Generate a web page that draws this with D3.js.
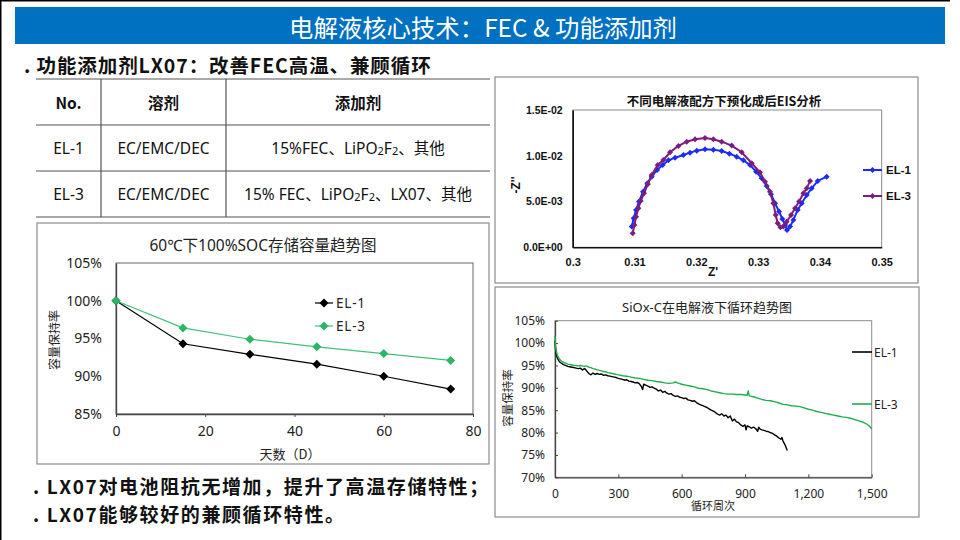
<!DOCTYPE html>
<html>
<head>
<meta charset="utf-8">
<script src="https://cdn.jsdelivr.net/npm/d3@7"></script>
<style>
  html, body { margin: 0; padding: 0; background: #fff; }
  svg { display: block; }
</style>
</head>
<body>
<svg id="slide" width="960" height="540"></svg>
<script>
// slide: electrolyte additive LX07 — table + storage / EIS / cycling charts

// ── Text ─────────────────────────────────────────────────────────────────────
const HEADER_TITLE = '电解液核心技术：FEC & 功能添加剂';
const SUBTITLE     = '. 功能添加剂LX07：改善FEC高温、兼顾循环';
const NOTES        = ['. LX07对电池阻抗无增加，提升了高温存储特性；', '. LX07能够较好的兼顾循环特性。'];

const TABLE_HEAD = ['No.', '溶剂', '添加剂'];
const TABLE_ROWS = [
    ['EL-1', 'EC/EMC/DEC', '15%FEC、LiPO2F2、其他'],
    ['EL-3', 'EC/EMC/DEC', '15% FEC、LiPO2F2、LX07、其他'],
];

const SERIES = ['EL-1', 'EL-3'];

// ── Storage chart (60℃, 100% SOC) ───────────────────────────────────────────
const STORE_TITLE   = '60℃下100%SOC存储容量趋势图';
const STORE_DAYS    = [0, 15, 30, 45, 60, 75];
const STORE_EL1     = [100, 94.3, 92.9, 91.6, 90.0, 88.3];
const STORE_EL3     = [100, 96.4, 94.9, 93.9, 93.0, 92.1];
const STORE_X_TICKS = [0, 20, 40, 60, 80];
const STORE_Y_TICKS = [85, 90, 95, 100, 105];

// ── EIS chart (Nyquist) ──────────────────────────────────────────────────────
const EIS_TITLE = '不同电解液配方下预化成后EIS分析';
const EIS_EL1_ZRE = [0.30955, 0.30987, 0.31025, 0.31073, 0.31138, 0.31208, 0.31278, 0.31365, 0.31456, 0.31548,
                     0.31656, 0.31791, 0.31899, 0.32007, 0.32141, 0.32276, 0.32411, 0.32535, 0.32654, 0.32762,
                     0.32870, 0.32967, 0.33058, 0.33139, 0.33209, 0.33274, 0.33339, 0.33393, 0.33436, 0.33468,
                     0.33517, 0.33571, 0.33641, 0.33706, 0.33787, 0.33867, 0.33965, 0.34110];
const EIS_EL1_ZIM = [0.00226, 0.00317, 0.00408, 0.00499, 0.00608, 0.00699, 0.00772, 0.00845, 0.00899, 0.00950,
                     0.00979, 0.01009, 0.01034, 0.01056, 0.01070, 0.01067, 0.01052, 0.01023, 0.00990, 0.00950,
                     0.00899, 0.00826, 0.00754, 0.00670, 0.00579, 0.00481, 0.00390, 0.00309, 0.00244, 0.00189,
                     0.00226, 0.00299, 0.00408, 0.00481, 0.00572, 0.00644, 0.00725, 0.00772];
const EIS_EL3_ZRE = [0.30971, 0.30998, 0.31025, 0.31063, 0.31100, 0.31154, 0.31214, 0.31278, 0.31376, 0.31467,
                     0.31575, 0.31710, 0.31845, 0.31980, 0.32141, 0.32276, 0.32411, 0.32573, 0.32735, 0.32897,
                     0.33031, 0.33112, 0.33193, 0.33247, 0.33285, 0.33317, 0.33360, 0.33409, 0.33463, 0.33533,
                     0.33598, 0.33663, 0.33733, 0.33787, 0.33841];
const EIS_EL3_ZIM = [0.00153, 0.00244, 0.00335, 0.00426, 0.00506, 0.00590, 0.00688, 0.00790, 0.00899, 0.00954,
                     0.01038, 0.01107, 0.01154, 0.01180, 0.01194, 0.01180, 0.01154, 0.01111, 0.01038, 0.00918,
                     0.00819, 0.00717, 0.00608, 0.00481, 0.00353, 0.00262, 0.00218, 0.00226, 0.00280, 0.00353,
                     0.00426, 0.00499, 0.00590, 0.00644, 0.00725];
const EIS_X_TICKS = [0.3, 0.31, 0.32, 0.33, 0.34, 0.35];
const EIS_Y_TICKS = [0, 0.005, 0.01, 0.015];

// ── Cycling chart (SiOx-C) ───────────────────────────────────────────────────
const CYC_TITLE = 'SiOx-C在电解液下循环趋势图';
const CYC_EL1_N = [0, 2, 5, 10, 15, 20, 30, 40, 50, 60, 70, 80, 90, 100, 110, 120, 130, 140, 150, 160,
                   170, 180, 190, 200, 210, 220, 230, 240, 250, 260, 270, 280, 290, 300, 310, 320, 330, 340, 350, 360,
                   370, 380, 390, 400, 410, 415, 420, 430, 440, 450, 460, 470, 480, 490, 500, 510, 520, 530, 540, 550,
                   560, 570, 580, 590, 600, 610, 620, 630, 640, 650, 660, 670, 680, 690, 700, 710, 720, 730, 740, 750,
                   760, 770, 780, 790, 800, 810, 820, 830, 840, 850, 860, 870, 880, 890, 900, 905, 910, 920, 930, 940,
                   950, 960, 965, 970, 980, 990, 1000, 1010, 1020, 1030, 1040, 1050, 1060, 1070, 1075, 1080, 1090, 1100];
const CYC_EL1_CAP = [100.6, 99.0, 97.8, 96.8, 96.3, 95.9, 95.5, 95.2, 95.0, 94.8, 94.7, 94.6, 94.5, 94.4, 94.3, 94.4, 94.0, 94.3, 93.8, 93.2,
                     92.9, 93.3, 93.0, 93.2, 93.0, 93.1, 92.8, 92.9, 92.7, 92.6, 92.5, 92.4, 92.3, 92.1, 92.0, 91.9, 91.7, 91.8, 91.5, 91.4,
                     91.3, 91.1, 91.2, 90.9, 90.2, 89.6, 90.8, 90.6, 90.4, 90.1, 90.2, 89.9, 89.7, 89.3, 89.5, 89.0, 89.2, 88.8, 88.6, 88.7,
                     88.3, 88.1, 88.2, 87.9, 87.8, 87.6, 87.7, 87.3, 87.2, 87.0, 87.1, 86.7, 86.4, 86.2, 86.0, 85.8, 85.6, 85.3, 85.0, 84.8,
                     84.5, 84.1, 83.9, 84.2, 83.7, 83.9, 83.3, 83.7, 82.6, 83.0, 82.4, 82.2, 81.7, 81.4, 81.7, 80.6, 81.5, 81.3, 81.0, 81.2,
                     80.9, 80.3, 81.2, 80.8, 80.6, 80.5, 80.3, 80.2, 80.0, 79.8, 79.5, 79.2, 78.8, 78.5, 78.9, 78.1, 77.2, 76.0];
const CYC_EL3_N = [0, 2, 5, 10, 15, 20, 30, 40, 50, 60, 70, 80, 90, 100, 110, 120, 130, 140, 150, 160,
                   170, 180, 190, 200, 210, 220, 230, 240, 250, 260, 270, 280, 290, 300, 320, 340, 360, 380, 400, 420,
                   440, 460, 480, 500, 520, 540, 560, 570, 580, 600, 620, 640, 660, 680, 700, 720, 740, 760, 780, 800,
                   820, 840, 860, 880, 900, 910, 915, 920, 940, 960, 980, 1000, 1020, 1040, 1060, 1080, 1100, 1120, 1140, 1160,
                   1180, 1200, 1220, 1240, 1260, 1280, 1300, 1320, 1340, 1360, 1380, 1400, 1420, 1440, 1460, 1480, 1490, 1500];
const CYC_EL3_CAP = [101.6, 99.8, 98.5, 97.5, 96.9, 96.5, 96.0, 95.7, 95.5, 95.3, 95.2, 95.1, 95.0, 95.0, 94.9, 95.0, 94.9, 94.8, 94.9, 94.6,
                     94.5, 94.3, 94.2, 94.0, 93.9, 93.8, 93.6, 93.6, 93.4, 93.3, 93.2, 93.1, 93.0, 92.9, 92.7, 92.6, 92.4, 92.2, 92.1, 91.9,
                     91.7, 91.6, 91.4, 91.3, 91.1, 91.0, 91.1, 91.3, 91.1, 90.8, 90.6, 90.4, 90.2, 89.9, 89.8, 89.6, 89.3, 89.1, 88.9, 88.7,
                     88.6, 88.6, 88.5, 88.5, 88.4, 88.3, 89.3, 88.2, 88.0, 87.7, 87.4, 87.2, 87.1, 86.9, 86.6, 86.3, 86.2, 86.0, 85.9, 85.8,
                     85.5, 85.2, 85.0, 84.7, 84.5, 84.3, 84.1, 83.9, 83.7, 83.5, 83.4, 83.2, 82.9, 82.6, 82.3, 81.8, 81.4, 80.8];
const CYC_X_TICKS = [0, 300, 600, 900, 1200, 1500];
const CYC_Y_TICKS = [70, 75, 80, 85, 90, 95, 100, 105];

// ── Fonts & colours ──────────────────────────────────────────────────────────
const CJK   = '"Noto Sans CJK SC", "Noto Sans", sans-serif';
const LAT   = '"Noto Sans", "Noto Sans CJK SC", sans-serif';
const ARIAL = '"Liberation Sans", "Noto Sans CJK SC", sans-serif';
const BLUE_BAR = '#0070C0';
const GREEN    = '#2bb565';
const CYC_GREEN = '#1fae4f';
const EIS_BLUE = '#1d2cf3';
const EIS_PURP = '#7b1e7e';

const svg = d3.select('#slide').attr('font-family', CJK);

// ── Slide frame + header ─────────────────────────────────────────────────────
svg.append('line').attr('x1', 0).attr('x2', 950).attr('y1', 0.75).attr('y2', 0.75)
    .attr('stroke', '#000').attr('stroke-width', 1.5);
svg.append('line').attr('x1', 0.75).attr('x2', 0.75).attr('y1', 0).attr('y2', 540)
    .attr('stroke', '#000').attr('stroke-width', 1.5);

svg.append('rect').attr('x', 15).attr('y', 7).attr('width', 930).attr('height', 37).attr('fill', BLUE_BAR);
svg.append('text').attr('x', 483).attr('y', 26)
    .attr('text-anchor', 'middle').attr('dominant-baseline', 'central')
    .attr('fill', '#fff').attr('font-size', '24.4px')
    .text(HEADER_TITLE);

svg.append('text').attr('x', 24).attr('y', 64)
    .attr('dominant-baseline', 'central')
    .attr('font-size', '19.5px').attr('font-weight', 'bold').attr('fill', '#111')
    .attr('letter-spacing', '0.9px')
    .text(SUBTITLE);

// ── Table ────────────────────────────────────────────────────────────────────
const COL_X = [36, 101, 226, 490];
const ROW_Y = [79, 125, 171, 217];
const tbl = svg.append('g');

ROW_Y.forEach(y => {
    tbl.append('line').attr('x1', COL_X[0]).attr('x2', COL_X[3]).attr('y1', y).attr('y2', y)
        .attr('stroke', '#555').attr('stroke-width', 1.2);
});
[COL_X[1], COL_X[2]].forEach(x => {
    tbl.append('line').attr('x1', x).attr('x2', x).attr('y1', ROW_Y[0]).attr('y2', ROW_Y[3])
        .attr('stroke', '#555').attr('stroke-width', 1.2);
});

// small "2" in LiPO2F2
function richText(sel, str) {
    [...str].forEach((ch, i) => {
        const isSub = ch === '2' && (str[i - 1] === 'O' || str[i - 1] === 'F');
        const afterSub = i > 1 && str[i - 1] === '2' && (str[i - 2] === 'O' || str[i - 2] === 'F');
        sel.append('tspan')
            .attr('font-size', isSub ? '11px' : null)
            .attr('dy', isSub ? 1.5 : (afterSub ? -1.5 : 0))
            .text(ch);
    });
}

const cellRows = [TABLE_HEAD, ...TABLE_ROWS];
cellRows.forEach((row, r) => {
    const cy = (ROW_Y[r] + ROW_Y[r + 1]) / 2;
    row.forEach((cell, c) => {
        const t = tbl.append('text')
            .attr('x', (COL_X[c] + COL_X[c + 1]) / 2).attr('y', cy)
            .attr('text-anchor', 'middle').attr('dominant-baseline', 'central')
            .attr('font-family', r === 0 ? CJK : LAT)
            .attr('font-size', '15.5px')
            .attr('font-weight', r === 0 ? 'bold' : 'normal')
            .attr('fill', '#111');
        if (r === 0) t.text(cell);
        else richText(t, cell);
    });
});

// ── Notes ────────────────────────────────────────────────────────────────────
NOTES.forEach((n, i) => {
    svg.append('text').attr('x', 33).attr('y', 485 + i * 28)
        .attr('dominant-baseline', 'central')
        .attr('font-size', '19px').attr('font-weight', 'bold').attr('fill', '#111')
        .attr('letter-spacing', '1.6px')
        .text(n);
});

// ── Helpers ──────────────────────────────────────────────────────────────────
function chartBox(x, y, w, h) {
    svg.append('rect').attr('x', x).attr('y', y).attr('width', w).attr('height', h)
        .attr('fill', '#fff').attr('stroke', '#8c8c8c').attr('stroke-width', 1.2);
}

function diamond(g, cx, cy, r, color) {
    g.append('path')
        .attr('d', `M${cx},${cy - r}L${cx + r},${cy}L${cx},${cy + r}L${cx - r},${cy}Z`)
        .attr('fill', color);
}

function styleAxis(g, font, size, weight, color) {
    g.selectAll('text').attr('font-family', font).attr('font-size', size)
        .attr('font-weight', weight).attr('fill', color || '#222');
    g.selectAll('line').attr('stroke', '#444');
    g.select('.domain').attr('stroke', '#444').attr('stroke-width', 1.3);
}

// ── Storage chart ────────────────────────────────────────────────────────────
(function storageChart() {
    chartBox(37, 223, 452, 241);
    const x = d3.scaleLinear().domain([0, 80]).range([116, 473]);
    const y = d3.scaleLinear().domain([85, 105]).range([414, 263]);

    svg.append('rect').attr('x', 116).attr('y', 263).attr('width', 357).attr('height', 151)
        .attr('fill', 'none').attr('stroke', '#666').attr('stroke-width', 1);

    const gx = svg.append('g').attr('transform', 'translate(0,414)')
        .call(d3.axisBottom(x).tickValues(STORE_X_TICKS).tickSize(3).tickSizeOuter(0).tickPadding(9));
    styleAxis(gx, LAT, '14px', 'normal');
    const gy = svg.append('g').attr('transform', 'translate(116,0)')
        .call(d3.axisLeft(y).tickValues(STORE_Y_TICKS).tickSize(0).tickPadding(14).tickFormat(d => d + '%'));
    styleAxis(gy, LAT, '14px', 'normal');

    const data = [
        { name: SERIES[0], vals: STORE_EL1, color: '#000', mark: '#000' },
        { name: SERIES[1], vals: STORE_EL3, color: '#3fc27a', mark: GREEN },
    ];
    const line = d3.line().x((d, i) => x(STORE_DAYS[i])).y(d => y(d));
    data.forEach(s => {
        svg.append('path').datum(s.vals).attr('d', line)
            .attr('fill', 'none').attr('stroke', s.color).attr('stroke-width', 1.2);
        const mg = svg.append('g');
        s.vals.forEach((v, i) => diamond(mg, x(STORE_DAYS[i]), y(v), 4.5, s.mark));
    });

    // legend
    data.forEach((s, i) => {
        const ly = 303 + i * 23;
        svg.append('line').attr('x1', 315).attr('x2', 333).attr('y1', ly).attr('y2', ly)
            .attr('stroke', s.color).attr('stroke-width', 1.2);
        diamond(svg, 324, ly, 4.5, s.mark);
        svg.append('text').attr('x', 336).attr('y', ly).attr('dominant-baseline', 'central')
            .attr('font-family', LAT).attr('font-size', '13.5px').attr('letter-spacing', '0.8px')
            .attr('fill', '#222').text(s.name);
    });

    svg.append('text').attr('x', 263).attr('y', 245)
        .attr('text-anchor', 'middle').attr('dominant-baseline', 'central')
        .attr('font-family', LAT).attr('font-size', '15.5px').attr('fill', '#222').text(STORE_TITLE);
    svg.append('text').attr('transform', 'translate(53,340) rotate(-90)')
        .attr('text-anchor', 'middle').attr('dominant-baseline', 'central')
        .attr('font-size', '12px').attr('fill', '#222').text('容量保持率');
    svg.append('text').attr('x', 290).attr('y', 453)
        .attr('text-anchor', 'middle').attr('dominant-baseline', 'central')
        .attr('font-size', '13px').attr('fill', '#222').text('天数（D）');
})();

// ── EIS chart ────────────────────────────────────────────────────────────────
(function eisChart() {
    chartBox(495, 77, 423, 206);
    const x = d3.scaleLinear().domain([0.3, 0.35]).range([572.7, 881.7]);
    const y = d3.scaleLinear().domain([0, 0.015]).range([247.3, 110]);

    svg.append('rect').attr('x', 572.7).attr('y', 110).attr('width', 309).attr('height', 137.3)
        .attr('fill', 'none').attr('stroke', '#8c8c8c').attr('stroke-width', 1);

    const sci = v => {
        const [m, e] = v.toExponential(1).split('e');
        const n = Math.abs(+e);
        return `${m}E${+e < 0 ? '-' : '+'}${n < 10 ? '0' + n : n}`;
    };
    const gx = svg.append('g').attr('transform', 'translate(0,247.3)')
        .call(d3.axisBottom(x).tickValues(EIS_X_TICKS).tickSize(0).tickSizeOuter(0).tickPadding(11)
            .tickFormat(d => String(+d.toFixed(2))));
    styleAxis(gx, ARIAL, '11px', 'bold', '#111');
    const gy = svg.append('g').attr('transform', 'translate(572.7,0)')
        .call(d3.axisLeft(y).tickValues(EIS_Y_TICKS).tickSize(0).tickSizeOuter(0).tickPadding(10).tickFormat(sci));
    styleAxis(gy, ARIAL, '10.5px', 'bold', '#111');
    gx.select('.domain').attr('stroke', '#111').attr('stroke-width', 1.6);
    gy.select('.domain').attr('stroke', '#111').attr('stroke-width', 1.6);

    const data = [
        { name: SERIES[0], re: EIS_EL1_ZRE, im: EIS_EL1_ZIM, color: EIS_BLUE },
        { name: SERIES[1], re: EIS_EL3_ZRE, im: EIS_EL3_ZIM, color: EIS_PURP },
    ];
    data.forEach(s => {
        const line = d3.line().x((d, i) => x(s.re[i])).y(d => y(d));
        svg.append('path').datum(s.im).attr('d', line)
            .attr('fill', 'none').attr('stroke', s.color).attr('stroke-width', 2);
        const mg = svg.append('g');
        s.im.forEach((v, i) => diamond(mg, x(s.re[i]), y(v), 3, s.color));
    });

    data.forEach((s, i) => {
        const ly = 170 + i * 26;
        svg.append('line').attr('x1', 863).attr('x2', 882).attr('y1', ly).attr('y2', ly)
            .attr('stroke', s.color).attr('stroke-width', 2);
        diamond(svg, 872.5, ly, 3, s.color);
        svg.append('text').attr('x', 886).attr('y', ly).attr('dominant-baseline', 'central')
            .attr('font-family', ARIAL).attr('font-size', '11.5px').attr('font-weight', 'bold')
            .attr('fill', '#111').text(s.name);
    });

    svg.append('text').attr('x', 724).attr('y', 100)
        .attr('text-anchor', 'middle').attr('dominant-baseline', 'central')
        .attr('font-size', '12.5px').attr('font-weight', 'bold').attr('fill', '#111').text(EIS_TITLE);
    svg.append('text').attr('transform', 'translate(516,185) rotate(-90)')
        .attr('text-anchor', 'middle').attr('dominant-baseline', 'central')
        .attr('font-family', ARIAL).attr('font-size', '12px').attr('font-weight', 'bold')
        .attr('fill', '#111').text("-Z''");
    svg.append('text').attr('x', 713).attr('y', 272)
        .attr('text-anchor', 'middle').attr('dominant-baseline', 'central')
        .attr('font-family', ARIAL).attr('font-size', '12px').attr('font-weight', 'bold')
        .attr('fill', '#111').text("Z'");
})();

// ── Cycling chart ────────────────────────────────────────────────────────────
(function cycleChart() {
    chartBox(495, 287, 424, 230);
    const x = d3.scaleLinear().domain([0, 1500]).range([555, 871.7]);
    const y = d3.scaleLinear().domain([70, 105]).range([477.3, 320.7]);

    svg.append('rect').attr('x', 555).attr('y', 320.7).attr('width', 316.7).attr('height', 156.6)
        .attr('fill', 'none').attr('stroke', '#8c8c8c').attr('stroke-width', 1);

    const gx = svg.append('g').attr('transform', 'translate(0,477.3)')
        .call(d3.axisBottom(x).tickValues(CYC_X_TICKS).tickSize(-3).tickSizeOuter(0).tickPadding(12)
            .tickFormat(d3.format(',')));
    styleAxis(gx, LAT, '12px', 'normal');
    const gy = svg.append('g').attr('transform', 'translate(555,0)')
        .call(d3.axisLeft(y).tickValues(CYC_Y_TICKS).tickSize(-3).tickSizeOuter(0).tickPadding(10)
            .tickFormat(d => d + '%'));
    styleAxis(gy, LAT, '12px', 'normal');

    const data = [
        { name: SERIES[0], n: CYC_EL1_N, cap: CYC_EL1_CAP, color: '#000' },
        { name: SERIES[1], n: CYC_EL3_N, cap: CYC_EL3_CAP, color: CYC_GREEN },
    ];
    data.forEach(s => {
        const line = d3.line().x((d, i) => x(s.n[i])).y(d => y(d));
        svg.append('path').datum(s.cap).attr('d', line)
            .attr('fill', 'none').attr('stroke', s.color).attr('stroke-width', 1.4)
            .attr('stroke-linejoin', 'round');
    });

    data.forEach((s, i) => {
        const ly = 352 + i * 52;
        svg.append('line').attr('x1', 852).attr('x2', 872).attr('y1', ly).attr('y2', ly)
            .attr('stroke', s.color).attr('stroke-width', 1.6);
        svg.append('text').attr('x', 874).attr('y', ly).attr('dominant-baseline', 'central')
            .attr('font-family', LAT).attr('font-size', '12px').attr('fill', '#222').text(s.name);
    });

    svg.append('text').attr('x', 707).attr('y', 307)
        .attr('text-anchor', 'middle').attr('dominant-baseline', 'central')
        .attr('font-family', LAT).attr('font-size', '13px').attr('fill', '#222').text(CYC_TITLE);
    svg.append('text').attr('transform', 'translate(507,398) rotate(-90)')
        .attr('text-anchor', 'middle').attr('dominant-baseline', 'central')
        .attr('font-size', '11.5px').attr('fill', '#222').text('容量保持率');
    svg.append('text').attr('x', 713).attr('y', 505)
        .attr('text-anchor', 'middle').attr('dominant-baseline', 'central')
        .attr('font-size', '11px').attr('fill', '#222').text('循环周次');
})();
</script>
</body>
</html>
